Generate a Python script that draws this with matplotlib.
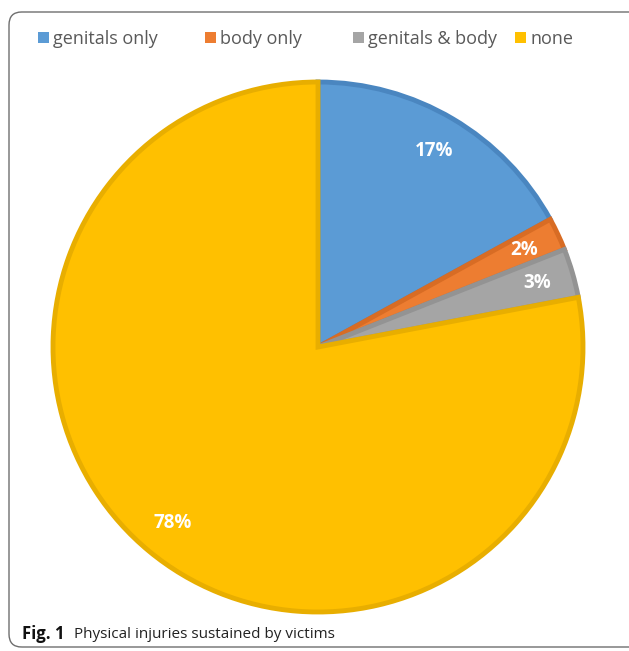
import matplotlib.pyplot as plt
from matplotlib.patches import FancyBboxPatch, Patch

# --- Data ---
labels = ['genitals only', 'body only', 'genitals & body', 'none']
values = [17, 2, 3, 78]
colors = ['#5B9BD5', '#ED7D31', '#A5A5A5', '#FFC000']
edges = ['#4A86C0', '#D86C24', '#939393', '#E8AE00']

plt.rcParams['font.family'] = ['Open Sans', 'DejaVu Sans']

W, H = 629, 651
fig = plt.figure(figsize=(W / 100, H / 100), dpi=100)

# rounded frame
frame = FancyBboxPatch((9 / W, 4 / H), 640 / W, (H - 16) / H,
                       boxstyle='round,pad=0,rounding_size=0.02',
                       transform=fig.transFigure, fc='none', ec='#6e6e6e', lw=1.0)
fig.patches.append(frame)

# pie axes: center (318, 347), radius 265 px
cx, cy, r = 318, 347, 265
ax = fig.add_axes([(cx - r) / W, (H - cy - r) / H, 2 * r / W, 2 * r / H])
wedges, texts, autotexts = ax.pie(values, colors=colors, startangle=90, counterclock=False,
                                  autopct='%d%%', pctdistance=0.86, radius=1,
                                  wedgeprops=dict(linewidth=3.5),
                                  textprops=dict(color='white', fontsize=13.5, fontweight='bold'))
for w, e in zip(wedges, edges):
    w.set_edgecolor(e)
    w.set_joinstyle('miter')
ax.set_xlim(-1, 1)
ax.set_ylim(-1, 1)
ax.set_aspect('equal')
ax.axis('off')

# legend entries placed one by one to follow the original spacing
legend_x = [38, 205, 353, 515]
for lx, lab, c in zip(legend_x, labels, colors):
    leg = fig.legend([Patch(facecolor=c, edgecolor='none')], [lab], loc='center left',
                     bbox_to_anchor=(lx / W, 1 - 39 / H), frameon=False, fontsize=13,
                     labelcolor='#595959', handlelength=0.6, handleheight=0.6,
                     handletextpad=0.25, borderpad=0, borderaxespad=0)

# caption
fig.text(22 / W, 1 - 634 / H, 'Fig. 1', fontsize=12, va='center', ha='left',
         fontweight='bold', color='#111111')
fig.text(74 / W, 1 - 634 / H, 'Physical injuries sustained by victims', fontsize=11,
         va='center', ha='left', color='#222222')

fig.savefig('out.png', dpi=100)
